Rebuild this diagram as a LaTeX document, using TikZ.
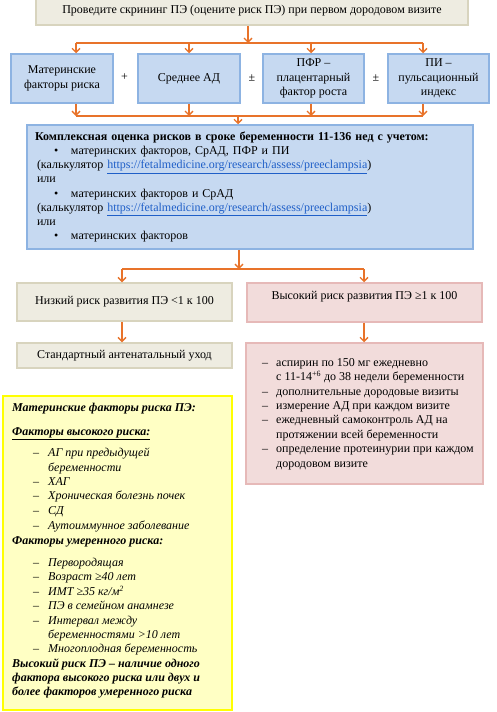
\documentclass[tikz,border=0pt]{standalone}
\usepackage{fontspec}
\setmainfont{Liberation Serif}
\usetikzlibrary{arrows.meta}
\definecolor{orC}{HTML}{E8732A}
\definecolor{beF}{HTML}{EEECE1}
\definecolor{beD}{HTML}{D8D4BE}
\definecolor{blF}{HTML}{C6D9F1}
\definecolor{blD}{HTML}{8DB3E2}
\definecolor{piF}{HTML}{F2DCDB}
\definecolor{piD}{HTML}{E6B9B8}
\definecolor{yeF}{HTML}{FFFFC4}
\definecolor{yeD}{HTML}{FFFF00}
\definecolor{lnkC}{HTML}{1F5FC8}
\newcommand\fs{\fontsize{12}{14.4}\selectfont}
\newcommand\lnk[1]{\textcolor{lnkC}{\underline{#1}}}
\tikzset{
  arr/.style={draw=orC, line width=1.3pt, -{Straight Barb[length=4pt,width=8pt,line width=1.3pt]}},
  ln/.style={draw=orC, line width=1.3pt},
  beigebox/.style={fill=beF, draw=beD, line width=1.5pt, font=\fs, align=center},
  bluebox/.style={fill=blF, draw=blD, line width=1.5pt, font=\fs, align=center},
  pinkbox/.style={fill=piF, draw=piD, line width=1.5pt, font=\fs, align=center},
  yelbox/.style={fill=yeF, draw=yeD, line width=2pt},
  txt/.style={font=\fs, inner sep=0pt},
  yl/.style={anchor=west, inner sep=0pt, text height=9pt, text depth=2pt, font=\fs\itshape},
  ylb/.style={yl, font=\fs\bfseries\itshape},
}
\begin{document}
\begin{tikzpicture}[x=1pt,y=-1pt]
\useasboundingbox (0,0) rectangle (497,712);
\fill[white] (0,0) rectangle (497,712);

% top box
\node[beigebox, minimum width=432pt, minimum height=28pt] (top) at (252,11)
  {Проведите скрининг ПЭ (оцените риск ПЭ) при первом дородовом визите};

% row of four
\node[bluebox, minimum width=102pt, minimum height=49pt] (b1) at (62,78.5) {Материнские\\факторы риска};
\node[bluebox, minimum width=102pt, minimum height=49pt] (b2) at (189,78.5) {Среднее АД};
\node[bluebox, minimum width=101pt, minimum height=49pt] (b3) at (313.5,78.5) {ПФР –\\плацентарный\\фактор роста};
\node[bluebox, minimum width=101pt, minimum height=49pt] (b4) at (438.5,78.5) {ПИ –\\пульсационный\\индекс};
\node[txt] (s1) at (124.5,77.5) {+};
\node[txt] (s2) at (252,78) {±};
\node[txt] (s3) at (376,78) {±};

\coordinate (j0) at (248,43);
\coordinate (h1) at (76,43);
\coordinate (h2) at (189,43);
\coordinate (h3) at (311,43);
\coordinate (h4) at (423,43);
\draw[arr] (top.south -| j0) -- (j0);
\draw[ln] (h1) -- (h4);
\draw[arr] (h1) -- (h1 |- b1.north);
\draw[arr] (h2) -- (h2 |- b2.north);
\draw[arr] (h3) -- (h3 |- b3.north);
\draw[arr] (h4) -- (h4 |- b4.north);

% complex box
\node[bluebox, minimum width=446pt, minimum height=124pt, text width=430pt, align=left,
      font=\fontsize{12}{14.1}\selectfont] (cx) at (250,187) {%
\textbf{Комплексная оценка рисков в сроке беременности 11-136 нед с учетом:}\\
\hspace*{19pt}\makebox[17pt][l]{•}материнских факторов, СрАД, ПФР и ПИ\\
\hspace*{2pt}(калькулятор \lnk{https://fetalmedicine.org/research/assess/preeclampsia})\\
\hspace*{2pt}или\\
\hspace*{19pt}\makebox[17pt][l]{•}материнских факторов и СрАД\\
\hspace*{2pt}(калькулятор \lnk{https://fetalmedicine.org/research/assess/preeclampsia})\\
\hspace*{2pt}или\\
\hspace*{19pt}\makebox[17pt][l]{•}материнских факторов};

\coordinate (g1) at (76,116);
\coordinate (g2) at (189,116);
\coordinate (g3) at (311,116);
\coordinate (g4) at (423,116);
\coordinate (gc) at (238,116);
\draw[arr] (b1.south -| g1) -- (g1);
\draw[arr] (b2.south -| g2) -- (g2);
\draw[arr] (b3.south -| g3) -- (g3);
\draw[arr] (b4.south -| g4) -- (g4);
\draw[ln] (g1) -- (g4);
\draw[arr] (gc) -- (gc |- cx.north);

% risk boxes
\node[beigebox, minimum width=215pt, minimum height=38pt] (low) at (124.5,302) {Низкий риск развития ПЭ <1 к 100};
\node[pinkbox, minimum width=235pt, minimum height=39pt] (high) at (364.5,302.5) {};
\node[txt] (hight) at (364.5,297) {Высокий риск развития ПЭ ≥1 к 100};

\coordinate (k0) at (239,269);
\coordinate (k1) at (122,269);
\coordinate (k2) at (364,269);
\draw[arr] (cx.south -| k0) -- (k0);
\draw[ln] (k1) -- (k2);
\draw[arr] (k1) -- (k1 |- low.north);
\draw[arr] (k2) -- (k2 |- high.north);

% second level
\node[beigebox, minimum width=215pt, minimum height=25pt] (std) at (124.5,355.5) {Стандартный антенатальный уход};
\node[pinkbox, minimum width=237pt, minimum height=141pt] (act) at (364.5,413.5) {};
\node[txt, anchor=west, align=left] (actt) at (262,414) {%
\makebox[14pt][l]{–}аспирин по 150 мг ежедневно\\
\hspace*{14pt}с 11-14\textsuperscript{+6} до 38 недели беременности\\
\makebox[14pt][l]{–}дополнительные дородовые визиты\\
\makebox[14pt][l]{–}измерение АД при каждом визите\\
\makebox[14pt][l]{–}ежедневный самоконтроль АД на\\
\hspace*{14pt}протяжении всей беременности\\
\makebox[14pt][l]{–}определение протеинурии при каждом\\
\hspace*{14pt}дородовом визите};

\draw[arr] (low.south -| k1) -- (k1 |- std.north);
\draw[arr] (high.south -| k2) -- (k2 |- act.north);

% yellow box
\node[yelbox, minimum width=229pt, minimum height=314pt] (yb) at (117.5,553) {};
\node[ylb] (y1) at (12,408) {Материнские факторы риска ПЭ:};
\node[ylb] (y2) at (12,432) {\underline{Факторы высокого риска:}};
\node[yl] (y3) at (33,453) {\makebox[15pt][l]{–}АГ при предыдущей};
\node[yl] (y4) at (48,468) {беременности};
\node[yl] (y5) at (33,482) {\makebox[15pt][l]{–}ХАГ};
\node[yl] (y6) at (33,496) {\makebox[15pt][l]{–}Хроническая болезнь почек};
\node[yl] (y7) at (33,511) {\makebox[15pt][l]{–}СД};
\node[yl] (y8) at (33,526) {\makebox[15pt][l]{–}Аутоиммунное заболевание};
\node[ylb] (y9) at (12,541) {Факторы умеренного риска:};
\node[yl] (y10) at (33,563) {\makebox[15pt][l]{–}Первородящая};
\node[yl] (y11) at (33,577) {\makebox[15pt][l]{–}Возраст ≥40 лет};
\node[yl] (y12) at (33,592) {\makebox[15pt][l]{–}ИМТ ≥35 кг/м\textsuperscript{2}};
\node[yl] (y13) at (33,606) {\makebox[15pt][l]{–}ПЭ в семейном анамнезе};
\node[yl] (y14) at (33,621) {\makebox[15pt][l]{–}Интервал между};
\node[yl] (y15) at (48,635) {беременностями >10 лет};
\node[yl] (y16) at (33,649) {\makebox[15pt][l]{–}Многоплодная беременность};
\node[ylb] (y17) at (12,664) {Высокий риск ПЭ – наличие одного};
\node[ylb] (y18) at (12,678) {фактора высокого риска или двух и};
\node[ylb] (y19) at (12,692) {более факторов умеренного риска};
\end{tikzpicture}
\end{document}
